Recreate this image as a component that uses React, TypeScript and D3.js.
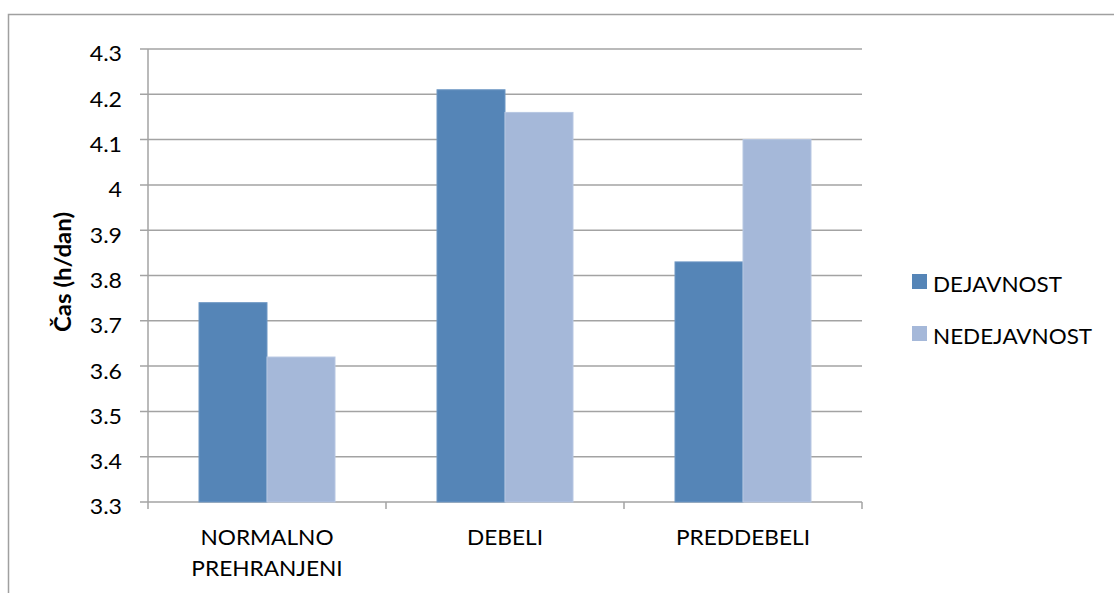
import React from "react";
import * as d3 from "d3";

const categories: string[][] = [["NORMALNO", "PREHRANJENI"], ["DEBELI"], ["PREDDEBELI"]];
const seriesNames = ["DEJAVNOST", "NEDEJAVNOST"];
const dejavnost = [3.74, 4.21, 3.83];
const nedejavnost = [3.62, 4.16, 4.1];
const yTicks = [3.3, 3.4, 3.5, 3.6, 3.7, 3.8, 3.9, 4, 4.1, 4.2, 4.3];
const colors = ["#5585B7", "#A5B8D9"];
const strokes = ["#6E97C4", "#B7C7E2"];

const W = 1114;
const H = 593;
const plot = { left: 148, right: 862, top: 49, bottom: 502 };
const FONT = "Lato, 'Open Sans', sans-serif";

// horizontal stretch around an anchor x
const stretch = (ax: number, s: number) => `translate(${ax},0) scale(${s},1) translate(${-ax},0)`;

export default function App() {
  const y = d3.scaleLinear().domain([3.3, 4.3]).range([plot.bottom, plot.top]);
  const keys = categories.map((c) => c.join(" "));
  const x = d3.scaleBand<string>().domain(keys).range([plot.left, plot.right]).padding(0);
  const xs = d3
    .scaleBand<string>()
    .domain(seriesNames)
    .range([0, x.bandwidth()])
    .paddingInner(0)
    .paddingOuter(0.75);
  const values = [dejavnost, nedejavnost];
  const grid = "#A3A3A3";
  const catTicks = [...keys.map((k) => x(k)!), plot.right];

  return (
    <svg
      width={W}
      height={H}
      style={{ position: "absolute", left: 0, top: 0, background: "#fff" }}
      fontFamily={FONT}
    >
      <rect x={8.5} y={14.5} width={W + 20} height={H + 20} fill="#fff" stroke="#A0A0A0" strokeWidth={1.5} />

      {yTicks.map((t) => (
        <g key={t}>
          <line x1={plot.left - 8} x2={plot.right} y1={y(t)} y2={y(t)} stroke={grid} strokeWidth={1.5} />
          <text
            x={122}
            y={y(t) + 12.5}
            textAnchor="end"
            fontSize={21}
            fill="#000"
            transform={stretch(122, 1.1)}
          >
            {String(t)}
          </text>
        </g>
      ))}
      <line x1={plot.left} x2={plot.left} y1={plot.top} y2={plot.bottom} stroke={grid} strokeWidth={1.5} />
      {catTicks.map((cx, i) => (
        <line key={i} x1={cx} x2={cx} y1={plot.bottom} y2={plot.bottom + 7} stroke={grid} strokeWidth={1.5} />
      ))}

      {values.map((vals, si) =>
        vals.map((v, ci) => {
          const bx = x(keys[ci])! + xs(seriesNames[si])!;
          return (
            <rect
              key={`${si}-${ci}`}
              x={bx}
              y={y(v)}
              width={xs.bandwidth()}
              height={plot.bottom - y(v)}
              fill={colors[si]}
              stroke={strokes[si]}
              strokeWidth={1}
            />
          );
        })
      )}

      {categories.map((lines, ci) => {
        const cx = x(keys[ci])! + x.bandwidth() / 2;
        return (
          <text key={ci} textAnchor="middle" fontSize={22} fill="#000" transform={stretch(cx, 1.03)}>
            {lines.map((l, li) => (
              <tspan key={li} x={cx} y={545 + li * 31}>
                {l}
              </tspan>
            ))}
          </text>
        );
      })}

      <text
        transform="translate(71,272) rotate(-90)"
        textAnchor="middle"
        fontSize={22}
        fontWeight="bold"
        fill="#000"
        textLength={120}
        lengthAdjust="spacingAndGlyphs"
      >
        Čas (h/dan)
      </text>

      {seriesNames.map((s, i) => {
        const ly = 292 + i * 52;
        return (
          <g key={s}>
            <rect x={912} y={ly - 18} width={15} height={15} fill={colors[i]} />
            <text x={933} y={ly} fontSize={22} fill="#000" transform={stretch(933, 1.02)}>
              {s}
            </text>
          </g>
        );
      })}
    </svg>
  );
}
